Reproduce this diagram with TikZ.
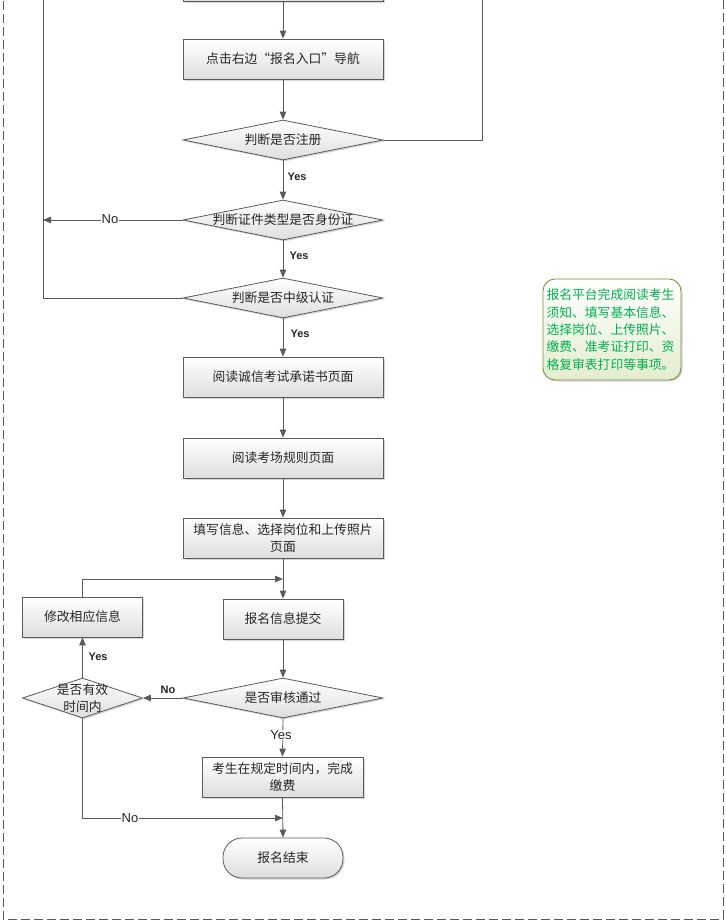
\documentclass[tikz,border=0pt]{standalone}
\usepackage{fontspec}
\setmainfont{Liberation Sans}
\newfontfamily\cjk{Noto Sans CJK SC}
\usetikzlibrary{shapes.geometric,arrows.meta,shadows}
\definecolor{ln}{HTML}{5A5A5A}
\definecolor{txt}{HTML}{262626}
\definecolor{notegreen}{HTML}{00B050}
\definecolor{noteborder}{HTML}{77933C}
\definecolor{notefill}{HTML}{E3ECCF}
\begin{document}
\begin{tikzpicture}[x=1pt,y=-1pt,
  every node/.style={text=txt},
  cjkt/.style={font=\cjk\fontsize{12.8}{16}\selectfont, align=center},
  shad/.style={drop shadow={shadow xshift=1.5pt, shadow yshift=-1.5pt, fill=black!35, opacity=0.45}},
  procbox/.style={rectangle, draw=ln, line width=0.8pt, top color=white, bottom color=black!13,
    minimum height=40pt, inner sep=2pt, cjkt, shad},
  dia/.style={diamond, draw=ln, line width=0.8pt, top color=white, bottom color=black!13,
    minimum height=40pt, inner sep=0pt, shad},
  term/.style={rectangle, rounded corners=19pt, draw=ln, line width=0.8pt, top color=white, bottom color=black!13,
    minimum height=40pt, minimum width=120pt, inner sep=2pt, cjkt, shad},
  conn/.style={draw=ln, line width=0.8pt},
  arr/.style={conn, -{Triangle[length=8pt,width=6.5pt]}},
  yesb/.style={font=\bfseries\fontsize{11}{13}\selectfont, inner sep=1pt},
  lblplain/.style={font=\fontsize{13}{15}\selectfont, fill=white, inner sep=0.6pt},
  noteb/.style={rectangle, rounded corners=12pt, draw=noteborder, line width=0.9pt,
    top color=white, bottom color=notefill, minimum width=138pt, minimum height=101pt,
    text width=131pt, align=left, inner sep=3pt, text=notegreen,
    font=\cjk\fontsize{12.8}{17.3}\selectfont},
  frame/.style={draw=black!65, line width=0.8pt, dash pattern=on 9pt off 4pt}
]
\useasboundingbox (0,0) rectangle (726,922);
\clip (0,0) rectangle (726,922);

% outer dashed frame
\draw[frame] (3,-12) rectangle (723,919);

% main column
\node[procbox, minimum width=200pt] (b0) at (283,-19) {};
\node[procbox, minimum width=200pt] (b1) at (283,59) {点击右边“报名入口”导航};
\node[dia, minimum width=200pt, label={[cjkt]center:判断是否注册}] (d1) at (283,140) {};
\node[dia, minimum width=200pt, label={[cjkt]center:判断证件类型是否身份证}] (d2) at (283,220) {};
\node[dia, minimum width=200pt, label={[cjkt]center:判断是否中级认证}] (d3) at (283,298) {};
\node[procbox, minimum width=200pt] (b2) at (283,377) {阅读诚信考试承诺书页面};
\node[procbox, minimum width=200pt] (b3) at (283,458) {阅读考场规则页面};
\node[procbox, minimum width=200pt, font=\cjk\fontsize{12.8}{17}\selectfont] (b4) at (283,538) {填写信息、选择岗位和上传照片\\页面};
\node[procbox, minimum width=120pt] (b5) at (283,619) {报名信息提交};
\node[procbox, minimum width=120pt] (bm) at (82.5,617) {修改相应信息};
\node[dia, minimum width=200pt, label={[cjkt]center:是否审核通过}] (d4) at (283,698) {};
\node[dia, minimum width=120pt, label={[cjkt, font=\cjk\fontsize{12.8}{17}\selectfont]center:是否有效\\时间内}] (d5) at (82.5,698) {};
\node[procbox, minimum width=161pt, font=\cjk\fontsize{12.8}{17}\selectfont] (b6) at (282.5,777) {考生在规定时间内，完成\\缴费};
\node[term] (t1) at (283,858) {报名结束};

% note
\node[noteb, shad] (note) at (612,329.5) {报名平台完成阅读考生\\须知、填写基本信息、\\选择岗位、上传照片、\\缴费、准考证打印、资\\格复审表打印等事项。};

% coordinates
\coordinate (rtop) at (482,-12);
\coordinate (ltop) at (43,-12);
\coordinate (lno) at (43,220);
\coordinate (j1) at (283,579);
\coordinate (j2) at (283,818);

% connectors
\draw[arr] (b0.south) -- (b1.north);
\draw[arr] (b1.south) -- (d1.north);
\draw[conn] (d1.east) -| (rtop);
\draw[arr] (d1.south) -- (d2.north);
\draw[arr] (d2.west) -- (lno);
\draw[arr] (d2.south) -- (d3.north);
\draw[conn] (d3.west) -| (ltop);
\draw[arr] (d3.south) -- (b2.north);
\draw[arr] (b2.south) -- (b3.north);
\draw[arr] (b3.south) -- (b4.north);
\draw[arr] (b4.south) -- (b5.north);
\draw[arr] (bm.north) |- (j1);
\draw[arr] (b5.south) -- (d4.north);
\draw[arr] (d4.west) -- (d5.east);
\draw[arr] (d5.north) -- (bm.south);
\draw[arr] (d4.south) -- (b6.north);
\draw[arr] (b6.south) -- (t1.north);
\draw[arr] (d5.south) |- (j2);

% labels
\node[yesb] (y1) at (297,177) {Yes};
\node[lblplain] (n1) at (110,219) {No};
\node[yesb] (y2) at (299,256) {Yes};
\node[yesb] (y3) at (300,334) {Yes};
\node[yesb] (n2) at (168,690) {No};
\node[yesb] (y4) at (98,657) {Yes};
\node[lblplain] (y5) at (281,735) {Yes};
\node[lblplain] (n3) at (130,818) {No};
\end{tikzpicture}
\end{document}
